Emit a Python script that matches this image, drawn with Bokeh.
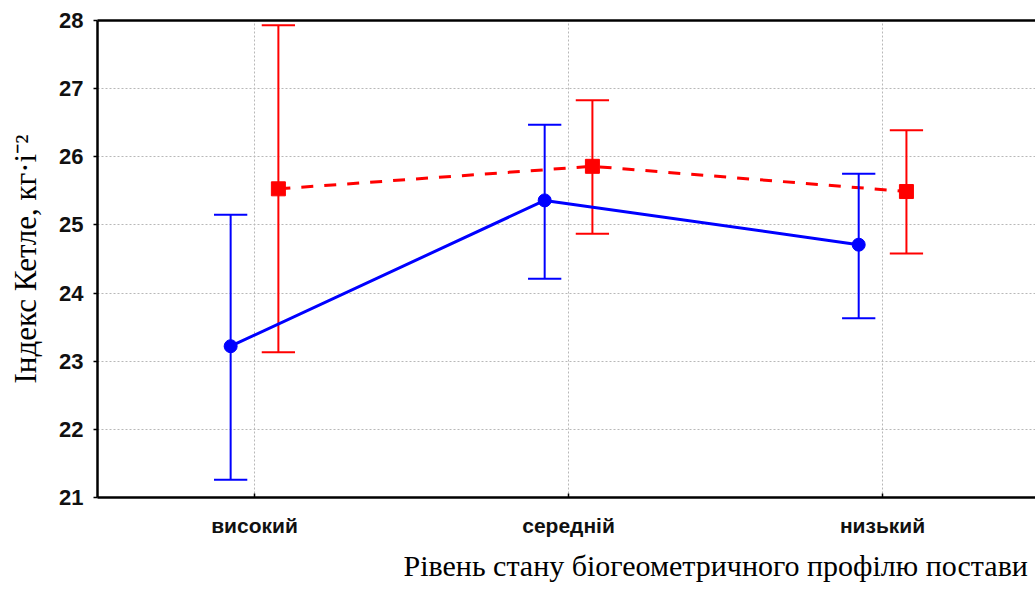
from bokeh.plotting import figure
from bokeh.models import Range1d, FixedTicker, LinearAxis, Title
from bokeh.embed import file_html
from bokeh.resources import INLINE

categories = ["високий", "середній", "низький"]
blue_mean = [23.22, 25.36, 24.71]
blue_low = [21.26, 24.21, 23.63]
blue_high = [25.15, 26.47, 25.75]
red_mean = [25.53, 25.86, 25.49]
red_low = [23.13, 24.87, 24.58]
red_high = [27.93, 26.83, 26.39]
y_ticks = [21, 22, 23, 24, 25, 26, 27, 28]

y_label = "Індекс Кетле, кг·і⁻²"
x_label = "Рівень стану біогеометричного профілю постави"

BLUE = "#0000ff"
RED = "#ff0000"
offset = 0.076
cap = 0.053

centers = [i + 0.5 for i in range(len(categories))]

p = figure(width=1035, height=590, output_backend="svg", toolbar_location=None,
           x_range=Range1d(0, 2.987), y_range=Range1d(21, 28),
           min_border_left=97, min_border_top=20, min_border_bottom=93, min_border_right=0)
p.outline_line_color = None
p.background_fill_color = "white"
p.border_fill_color = "white"

xa = p.xaxis[0]
xa.ticker = FixedTicker(ticks=centers)
xa.major_label_overrides = {c: lab for c, lab in zip(centers, categories)}
xa.major_tick_in = 4
xa.major_tick_out = 0
xa.minor_tick_line_color = None
xa.axis_line_width = 2.5
xa.axis_line_color = "black"
xa.major_tick_line_width = 1.5
xa.major_label_text_font = "Liberation Sans"
xa.major_label_text_font_size = "21px"
xa.major_label_text_font_style = "bold"
xa.major_label_text_color = "#111111"
xa.major_label_standoff = 16

ya = p.yaxis[0]
ya.ticker = FixedTicker(ticks=y_ticks)
ya.major_tick_in = 0
ya.major_tick_out = 4
ya.minor_tick_line_color = None
ya.axis_line_width = 2.5
ya.axis_line_color = "black"
ya.major_tick_line_width = 1.5
ya.major_label_text_font = "Liberation Sans"
ya.major_label_text_font_size = "22px"
ya.major_label_text_font_style = "bold"
ya.major_label_text_color = "#111111"
ya.major_label_standoff = 10
ya.axis_label = y_label
ya.axis_label_text_font = "Liberation Serif"
ya.axis_label_text_font_size = "31px"
ya.axis_label_text_font_style = "normal"
ya.axis_label_text_color = "black"
ya.axis_label_standoff = 13

top = LinearAxis(ticker=FixedTicker(ticks=[]), axis_line_width=2.5, axis_line_color="black",
                 major_label_text_font_size="0px", minor_tick_line_color=None,
                 major_tick_line_color=None)
p.add_layout(top, "above")

p.xgrid.ticker = FixedTicker(ticks=centers)
p.ygrid.ticker = FixedTicker(ticks=[22, 23, 24, 25, 26, 27])
for g in (p.xgrid[0], p.ygrid[0]):
    g.grid_line_color = "#b8b8b8"
    g.grid_line_dash = "2 2"
    g.grid_line_width = 1

rx = [c + offset for c in centers]
bx = [c - offset for c in centers]

# red series (dashed, squares)
p.line(rx, red_mean, line_color=RED, line_width=3, line_dash="12 11")
p.segment(rx, red_low, rx, red_high, line_color=RED, line_width=2)
p.segment([x - cap for x in rx], red_low, [x + cap for x in rx], red_low, line_color=RED, line_width=2)
p.segment([x - cap for x in rx], red_high, [x + cap for x in rx], red_high, line_color=RED, line_width=2)
p.scatter(rx, red_mean, marker="square", size=14, fill_color=RED, line_color=RED)

# blue series (solid, circles)
p.line(bx, blue_mean, line_color=BLUE, line_width=3)
p.segment(bx, blue_low, bx, blue_high, line_color=BLUE, line_width=2)
p.segment([x - cap for x in bx], blue_low, [x + cap for x in bx], blue_low, line_color=BLUE, line_width=2)
p.segment([x - cap for x in bx], blue_high, [x + cap for x in bx], blue_high, line_color=BLUE, line_width=2)
p.scatter(bx, blue_mean, marker="circle", size=13, fill_color=BLUE, line_color=BLUE)

xt = Title(text=x_label, align="left", offset=306, text_font="Liberation Serif",
           text_font_size="30px", text_font_style="normal", text_color="black", standoff=14)
p.add_layout(xt, "below")

open("out.html", "w").write(file_html(p, INLINE))
